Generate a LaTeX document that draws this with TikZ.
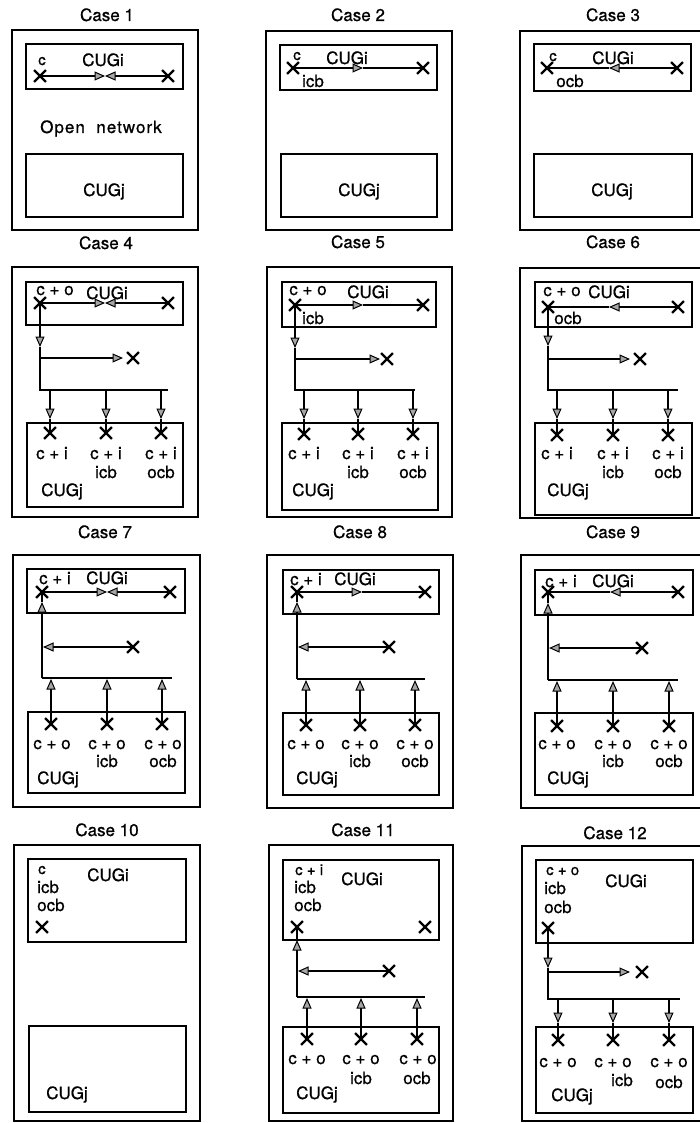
\documentclass[tikz,border=0pt]{standalone}
\usepackage{fontspec}
\setmainfont[FakeBold=0.7]{TeX Gyre Heros}
\usetikzlibrary{arrows.meta,shapes.misc,fit}
\newcommand\lbsize{\fontsize{17}{19}\selectfont}
\newcommand\smsize{\fontsize{15}{17}\selectfont}
% drop from bus down to a cross: name, x, ybus, ytip, ycross
\newcommand\dropdown[5]{%
  \coordinate (#1s) at (#2,#3);
  \coordinate (#1t) at (#2,#4);
  \node[xmark] (#1x) at (#2,#5) {};
  \draw[conn,-{mtri}] (#1s) -- (#1t);
  \draw[conn] (#1t) -- (#1x.center);}
% rise from a cross up to the bus: name, x, ybus, ycross
\newcommand\riseup[4]{%
  \coordinate (#1s) at (#2,#3);
  \node[xmark] (#1x) at (#2,#4) {};
  \draw[conn,-{mtri}] (#1x.center) -- (#1s);}
\tikzset{
  outer/.style={draw, line width=2.3pt, inner sep=0pt},
  grp/.style={draw, line width=1.1pt, inner sep=0pt},
  xmark/.style={cross out, draw, line width=2.3pt, minimum size=9.5pt, inner sep=0pt},
  conn/.style={line width=1.1pt},
  lbl/.style={inner sep=0pt, font=\lbsize, text height=12pt, text depth=0pt},
  sml/.style={inner sep=0pt, font=\smsize, text height=10pt, text depth=0pt},
  ttl/.style={lbl},
  mtri/.tip={Triangle[length=10.5pt,width=9pt,fill=gray!70,line width=1pt]}
}
\begin{document}
\begin{tikzpicture}[x=1pt,y=-1pt]
\useasboundingbox (0,0) rectangle (700,1123);

%%%%%%%%%%%%%%%% Case 1
\node[ttl] (t1) at (107,15) {Case 1};
\node[outer, fit={(12,30) (198,230)}] (o1) {};
\node[grp, fit={(26,44) (183,89)}] (i1) {};
\node[grp, fit={(26,154) (183,217)}] (j1) {};
\node[sml] (c1) at (42,60) {c};
\node[lbl] (g1) at (103,60) {CUGi};
\node[xmark] (x1a) at (40,76) {};
\node[xmark] (x1b) at (168,76) {};
\coordinate (m1) at (105,76);
\draw[conn,-{mtri}] (x1a.center) -- (m1);
\draw[conn,-{mtri}] (x1b.center) -- (m1);
\node[lbl] (on1) at (101,127) {\addfontfeature{LetterSpace=6}Open\ \ network};
\node[lbl] (h1) at (104,190) {CUGj};

%%%%%%%%%%%%%%%% Case 2
\node[ttl] (t2) at (358,15) {Case 2};
\node[outer, fit={(266,31) (452,230)}] (o2) {};
\node[grp, fit={(280,45) (437,90)}] (i2) {};
\node[grp, fit={(281,154) (437,217)}] (j2) {};
\node[sml] (c2) at (297,55) {c};
\node[lbl] (g2) at (347,58) {CUGi};
\node[xmark] (x2a) at (293,68) {};
\node[xmark] (x2b) at (423,68) {};
\coordinate (m2) at (363,68);
\draw[conn,-{mtri}] (x2a.center) -- (m2);
\draw[conn] (m2) -- (x2b.center);
\node[lbl] (b2) at (313,81) {icb};
\node[lbl] (h2) at (359,190) {CUGj};

%%%%%%%%%%%%%%%% Case 3
\node[ttl] (t3) at (613,15) {Case 3};
\node[outer, fit={(520,31) (706,230)}] (o3) {};
\node[grp, fit={(534,44) (691,91)}] (i3) {};
\node[grp, fit={(534,154) (692,217)}] (j3) {};
\node[sml] (c3) at (553,56) {c};
\node[lbl] (g3) at (613,58) {CUGi};
\node[xmark] (x3a) at (547,68) {};
\node[xmark] (x3b) at (677,68) {};
\coordinate (m3) at (609,68);
\draw[conn,-{mtri}] (x3b.center) -- (m3);
\draw[conn] (m3) -- (x3a.center);
\node[lbl] (b3) at (570,81) {ocb};
\node[lbl] (h3) at (612,190) {CUGj};

%%%%%%%%%%%%%%%% Case 4
\node[ttl] (t4) at (106,243) {Case 4};
\node[outer, fit={(12,267) (198,517)}] (o4) {};
\node[grp, fit={(26,282) (183,325)}] (i4) {};
\node[grp, fit={(27,423) (183,507)}] (j4) {};
\node[lbl] (c4) at (55,289) {c + o};
\node[lbl] (g4) at (107,293) {CUGi};
\node[xmark] (x4a) at (40,303) {};
\node[xmark] (x4b) at (168,303) {};
\coordinate (m4) at (105,303);
\draw[conn,-{mtri}] (x4a.center) -- (m4);
\draw[conn,-{mtri}] (x4b.center) -- (m4);
\coordinate (v4) at (40,347);
\coordinate (k4) at (40,358);
\coordinate (s4) at (40,390);
\coordinate (e4) at (168,390);
\draw[conn,-{mtri}] (x4a.center) -- (v4);
\draw[conn] (v4) -- (s4) -- (e4);
\coordinate (r4) at (123,358);
\node[xmark] (y4) at (133,358) {};
\draw[conn,-{mtri}] (k4) -- (r4);
\dropdown{d4a}{50}{390}{419}{433}
\dropdown{d4b}{106}{390}{419}{433}
\dropdown{d4c}{161}{390}{419}{433}
\node[lbl] (l4a) at (52,453) {c + i};
\node[lbl] (l4b) at (106,453) {c + i};
\node[lbl] (l4c) at (161,453) {c + i};
\node[lbl] (n4b) at (106,472) {icb};
\node[lbl] (n4c) at (161,472) {ocb};
\node[lbl] (h4) at (62,490) {CUGj};

%%%%%%%%%%%%%%%% Case 5
\node[ttl] (t5) at (358,242) {Case 5};
\node[outer, fit={(267,267) (452,517)}] (o5) {};
\node[grp, fit={(282,282) (436,327)}] (i5) {};
\node[grp, fit={(282,423) (438,510)}] (j5) {};
\node[lbl] (c5) at (308,289) {c + o};
\node[lbl] (g5) at (368,292) {CUGi};
\node[lbl] (b5) at (313,318) {icb};
\node[xmark] (x5a) at (295,305) {};
\node[xmark] (x5b) at (423,305) {};
\coordinate (m5) at (363,305);
\draw[conn,-{mtri}] (x5a.center) -- (m5);
\draw[conn] (m5) -- (x5b.center);
\coordinate (v5) at (295,348);
\coordinate (k5) at (295,359);
\coordinate (s5) at (295,390);
\coordinate (e5) at (415,390);
\draw[conn,-{mtri}] (x5a.center) -- (v5);
\draw[conn] (v5) -- (s5) -- (e5);
\coordinate (r5) at (380,359);
\node[xmark] (y5) at (387,359) {};
\draw[conn,-{mtri}] (k5) -- (r5);
\dropdown{d5a}{304}{390}{419}{434}
\dropdown{d5b}{358}{390}{419}{434}
\dropdown{d5c}{413}{390}{419}{434}
\node[lbl] (l5a) at (304,453) {c + i};
\node[lbl] (l5b) at (358,453) {c + i};
\node[lbl] (l5c) at (413,453) {c + i};
\node[lbl] (n5b) at (358,472) {icb};
\node[lbl] (n5c) at (413,472) {ocb};
\node[lbl] (h5) at (313,490) {CUGj};

%%%%%%%%%%%%%%%% Case 6
\node[ttl] (t6) at (613,242) {Case 6};
\node[outer, fit={(520,268) (706,518)}] (o6) {};
\node[grp, fit={(535,282) (692,327)}] (i6) {};
\node[grp, fit={(535,423) (692,515)}] (j6) {};
\node[lbl] (c6) at (562,290) {c + o};
\node[lbl] (g6) at (609,292) {CUGi};
\node[lbl] (b6) at (568,318) {ocb};
\node[xmark] (x6a) at (548,307) {};
\node[xmark] (x6b) at (678,307) {};
\coordinate (m6) at (609,307);
\draw[conn,-{mtri}] (x6b.center) -- (m6);
\draw[conn] (m6) -- (x6a.center);
\coordinate (v6) at (548,346);
\coordinate (k6) at (548,359);
\coordinate (s6) at (548,390);
\coordinate (e6) at (678,390);
\draw[conn,-{mtri}] (x6a.center) -- (v6);
\draw[conn] (v6) -- (s6) -- (e6);
\coordinate (r6) at (630,359);
\node[xmark] (y6) at (640,359) {};
\draw[conn,-{mtri}] (k6) -- (r6);
\dropdown{d6a}{557}{390}{419}{435}
\dropdown{d6b}{613}{390}{419}{435}
\dropdown{d6c}{668}{390}{419}{435}
\node[lbl] (l6a) at (557,453) {c + i};
\node[lbl] (l6b) at (613,453) {c + i};
\node[lbl] (l6c) at (668,453) {c + i};
\node[lbl] (n6b) at (613,472) {icb};
\node[lbl] (n6c) at (668,472) {ocb};
\node[lbl] (h6) at (568,490) {CUGj};

%%%%%%%%%%%%%%%% Case 7
\node[ttl] (t7) at (105,532) {Case 7};
\node[outer, fit={(13,555) (200,807)}] (o7) {};
\node[grp, fit={(27,569) (185,613)}] (i7) {};
\node[grp, fit={(28,712) (185,793)}] (j7) {};
\node[lbl] (c7) at (55,578) {c + i};
\node[lbl] (g7) at (107,578) {CUGi};
\node[xmark] (x7a) at (42,592) {};
\node[xmark] (x7b) at (170,592) {};
\coordinate (m7) at (107,592);
\draw[conn,-{mtri}] (x7a.center) -- (m7);
\draw[conn,-{mtri}] (x7b.center) -- (m7);
\coordinate (s7) at (42,678);
\coordinate (v7) at (42,602);
\coordinate (e7) at (172,678);
\draw[conn,-{mtri}] (s7) -- (v7);
\draw[conn] (v7) -- (x7a.center);
\draw[conn] (s7) -- (e7);
\node[xmark] (y7) at (133,647) {};
\coordinate (r7) at (43,647);
\draw[conn,-{mtri}] (y7.center) -- (r7);
\riseup{u7a}{51}{679}{724}
\riseup{u7b}{107}{679}{724}
\riseup{u7c}{162}{679}{724}
\node[lbl] (l7a) at (52,743) {c + o};
\node[lbl] (l7b) at (107,743) {c + o};
\node[lbl] (l7c) at (163,743) {c + o};
\node[lbl] (n7b) at (107,761) {icb};
\node[lbl] (n7c) at (163,761) {ocb};
\node[lbl] (h7) at (58,778) {CUGj};

%%%%%%%%%%%%%%%% Case 8
\node[ttl] (t8) at (360,532) {Case 8};
\node[outer, fit={(267,555) (453,808)}] (o8) {};
\node[grp, fit={(283,570) (439,614)}] (i8) {};
\node[grp, fit={(283,713) (439,795)}] (j8) {};
\node[lbl] (c8) at (306,579) {c + i};
\node[lbl] (g8) at (355,579) {CUGi};
\node[xmark] (x8a) at (297,592) {};
\node[xmark] (x8b) at (425,592) {};
\coordinate (m8) at (362,592);
\draw[conn,-{mtri}] (x8a.center) -- (m8);
\draw[conn] (m8) -- (x8b.center);
\coordinate (s8) at (297,679);
\coordinate (v8) at (297,602);
\coordinate (e8) at (425,679);
\draw[conn,-{mtri}] (s8) -- (v8);
\draw[conn] (v8) -- (x8a.center);
\draw[conn] (s8) -- (e8);
\node[xmark] (y8) at (389,647) {};
\coordinate (r8) at (298,647);
\draw[conn,-{mtri}] (y8.center) -- (r8);
\riseup{u8a}{306}{680}{725}
\riseup{u8b}{360}{680}{725}
\riseup{u8c}{415}{680}{725}
\node[lbl] (l8a) at (306,743) {c + o};
\node[lbl] (l8b) at (360,743) {c + o};
\node[lbl] (l8c) at (415,743) {c + o};
\node[lbl] (n8b) at (360,761) {icb};
\node[lbl] (n8c) at (415,761) {ocb};
\node[lbl] (h8) at (317,778) {CUGj};

%%%%%%%%%%%%%%%% Case 9
\node[ttl] (t9) at (613,532) {Case 9};
\node[outer, fit={(521,555) (706,808)}] (o9) {};
\node[grp, fit={(535,570) (693,615)}] (i9) {};
\node[grp, fit={(535,713) (693,795)}] (j9) {};
\node[lbl] (c9) at (561,581) {c + i};
\node[lbl] (g9) at (613,581) {CUGi};
\node[xmark] (x9a) at (548,592) {};
\node[xmark] (x9b) at (678,592) {};
\coordinate (m9) at (610,592);
\draw[conn,-{mtri}] (x9b.center) -- (m9);
\draw[conn] (m9) -- (x9a.center);
\coordinate (s9) at (548,680);
\coordinate (v9) at (548,603);
\coordinate (e9) at (678,680);
\draw[conn,-{mtri}] (s9) -- (v9);
\draw[conn] (v9) -- (x9a.center);
\draw[conn] (s9) -- (e9);
\node[xmark] (y9) at (642,648) {};
\coordinate (r9) at (549,648);
\draw[conn,-{mtri}] (y9.center) -- (r9);
\riseup{u9a}{557}{681}{726}
\riseup{u9b}{613}{681}{726}
\riseup{u9c}{669}{681}{726}
\node[lbl] (l9a) at (557,743) {c + o};
\node[lbl] (l9b) at (613,743) {c + o};
\node[lbl] (l9c) at (669,743) {c + o};
\node[lbl] (n9b) at (613,761) {icb};
\node[lbl] (n9c) at (669,761) {ocb};
\node[lbl] (h9) at (568,778) {CUGj};

%%%%%%%%%%%%%%%% Case 10
\node[ttl] (t10) at (107,830) {Case 10};
\node[outer, fit={(14,845) (200,1121)}] (o10) {};
\node[grp, fit={(28,859) (186,942)}] (i10) {};
\node[grp, fit={(29,1026) (186,1112)}] (j10) {};
\node[sml, anchor=west] (c10) at (38,869) {c};
\node[lbl, anchor=west] (b10) at (37,887) {icb};
\node[lbl, anchor=west] (q10) at (37,905) {ocb};
\node[lbl] (g10) at (108,875) {CUGi};
\node[xmark] (x10) at (42,927) {};
\node[lbl] (h10) at (67,1093) {CUGj};

%%%%%%%%%%%%%%%% Case 11
\node[ttl] (t11) at (363,830) {Case 11};
\node[outer, fit={(269,845) (453,1121)}] (o11) {};
\node[grp, fit={(283,860) (439,940)}] (i11) {};
\node[grp, fit={(283,1027) (439,1113)}] (j11) {};
\node[sml, anchor=west] (c11) at (295,870) {c + i};
\node[lbl, anchor=west] (b11) at (294,887) {icb};
\node[lbl, anchor=west] (q11) at (294,905) {ocb};
\node[lbl] (g11) at (362,879) {CUGi};
\node[xmark] (x11a) at (297,927) {};
\node[xmark] (x11b) at (425,927) {};
\coordinate (s11) at (297,997);
\coordinate (v11) at (297,940);
\coordinate (e11) at (425,997);
\draw[conn,-{mtri}] (s11) -- (v11);
\draw[conn] (v11) -- (x11a.center);
\draw[conn] (s11) -- (e11);
\node[xmark] (y11) at (389,971) {};
\coordinate (r11) at (298,971);
\draw[conn,-{mtri}] (y11.center) -- (r11);
\riseup{u11a}{307}{998}{1039}
\riseup{u11b}{361}{998}{1039}
\riseup{u11c}{417}{998}{1039}
\node[lbl] (l11a) at (307,1058) {c + o};
\node[lbl] (l11b) at (361,1058) {c + o};
\node[lbl] (l11c) at (418,1058) {c + o};
\node[lbl] (n11b) at (361,1078) {icb};
\node[lbl] (n11c) at (417,1078) {ocb};
\node[lbl] (h11) at (317,1093) {CUGj};

%%%%%%%%%%%%%%%% Case 12
\node[ttl] (t12) at (615,833) {Case 12};
\node[outer, fit={(522,846) (706,1121)}] (o12) {};
\node[grp, fit={(536,860) (693,943)}] (i12) {};
\node[grp, fit={(536,1027) (693,1113)}] (j12) {};
\node[sml, anchor=west] (c12) at (546,870) {c + o};
\node[lbl, anchor=west] (b12) at (544,888) {icb};
\node[lbl, anchor=west] (q12) at (544,907) {ocb};
\node[lbl] (g12) at (626,881) {CUGi};
\node[xmark] (x12) at (548,928) {};
\coordinate (v12) at (548,968);
\coordinate (k12) at (548,972);
\coordinate (s12) at (548,999);
\coordinate (e12) at (680,999);
\draw[conn,-{mtri}] (x12.center) -- (v12);
\draw[conn] (v12) -- (s12) -- (e12);
\coordinate (r12) at (630,972);
\node[xmark] (y12) at (642,972) {};
\draw[conn,-{mtri}] (k12) -- (r12);
\dropdown{d12a}{558}{999}{1023}{1040}
\dropdown{d12b}{613}{999}{1023}{1040}
\dropdown{d12c}{669}{999}{1023}{1040}
\node[lbl] (l12a) at (558,1061) {c + o};
\node[lbl] (l12b) at (613,1061) {c + o};
\node[lbl] (l12c) at (669,1061) {c + o};
\node[lbl] (n12b) at (622,1080) {icb};
\node[lbl] (n12c) at (669,1082) {ocb};
\node[lbl] (h12) at (572,1095) {CUGj};
\end{tikzpicture}
\end{document}
